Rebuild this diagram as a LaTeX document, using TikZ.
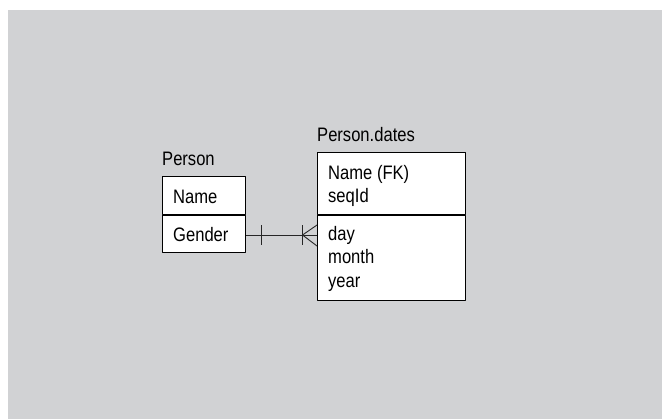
\documentclass[tikz,border=0pt]{standalone}
\usepackage{fontspec}
\setmainfont{Liberation Sans}[FakeStretch=0.85]
\usetikzlibrary{positioning,calc}
\begin{document}
\begin{tikzpicture}[x=1bp,y=-1bp,line join=round,
  tbl/.style={draw=black,line width=1bp,fill=white,anchor=north west,inner sep=0pt},
  fld/.style={anchor=base west,inner sep=0pt,font=\fontsize{19.5bp}{23.5bp}\selectfont},
  conn/.style={draw=black!85,line width=0.9bp}]
\definecolor{paper}{RGB}{209,210,212}
\useasboundingbox (0,0) rectangle (662,419);
\fill[paper] (8,10) rectangle (662,419);
% Person: key part over attribute part
\node[tbl,minimum width=83bp,minimum height=38bp] (pkey) at (162,176) {};
\node[tbl,minimum width=83bp,minimum height=37bp] (pattr) at (pkey.south west) {};
\node[fld] (ptitle) at (162,165) {Person};
\node[fld] (pname) at (173,203) {Name};
\node[fld] (pgender) at (173,241) {Gender};
% Person.dates
\node[tbl,minimum width=148bp,minimum height=62bp] (dkey) at (317,152) {};
\node[tbl,minimum width=148bp,minimum height=85bp] (dattr) at (dkey.south west) {};
\node[fld] (dtitle) at (317,141.5) {Person.dates};
\node[fld] (dname) at (328,179) {Name (FK)};
\node[fld] (dseq) at (328,202.5) {seqId};
\node[fld] (dday) at (328,240) {day};
\node[fld] (dmonth) at (328,263.5) {month};
\node[fld] (dyear) at (328,287) {year};
% one-to-many link
\coordinate (ja) at ($(pattr.north east)+(0,20)$);
\coordinate (jb) at (ja -| dattr.west);
\draw[conn] (ja) -- (jb);
\draw[conn] ($(ja)+(15,-10)$) -- ($(ja)+(15,10)$);
\draw[conn] ($(jb)+(-14.5,-10)$) -- ($(jb)+(-14.5,10)$);
\draw[conn] ($(jb)+(0,-10)$) -- ($(jb)+(-14.5,0)$) -- ($(jb)+(0,11)$);
\end{tikzpicture}
\end{document}
